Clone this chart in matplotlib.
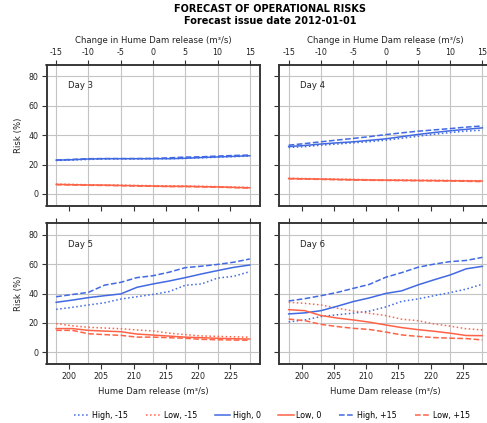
import matplotlib
matplotlib.use("Agg")
import matplotlib.pyplot as plt
from matplotlib.lines import Line2D

plt.rcParams["font.family"] = ["DejaVu Sans"]
plt.rcParams["axes.unicode_minus"] = False

# Hume Dam release (m3/s) and the change relative to the base release
release = [198, 200.5, 203, 205.5, 208, 210.5, 213, 215.5, 218, 220.5, 223, 225.5, 228]
base_release = 213
change_ticks = [-15, -10, -5, 0, 5, 10, 15]
release_ticks = [200, 205, 210, 215, 220, 225]
risk_ticks = [0, 20, 40, 60, 80]

days = ["Day 3", "Day 4", "Day 5", "Day 6"]

# Risk (%) of high / low flow for change scenarios -15, 0, +15
high_m15 = [
    [22.8, 23.1, 23.5, 23.8, 23.9, 23.9, 24.0, 24.0, 24.2, 24.6, 25.0, 25.4, 25.8],
    [31.6, 32.2, 33.2, 34.0, 34.8, 35.6, 36.6, 37.9, 39.3, 40.6, 41.8, 42.8, 43.4],
    [29.2, 30.6, 32.2, 33.7, 36.2, 37.8, 39.4, 41.3, 45.6, 46.5, 50.5, 51.7, 54.9],
    [20.6, 22.0, 24.3, 25.5, 26.6, 28.0, 30.8, 34.6, 36.3, 38.5, 40.6, 43.0, 46.3],
]
low_m15 = [
    [6.7, 6.5, 6.3, 6.1, 6.0, 5.8, 5.6, 5.5, 5.4, 5.2, 5.0, 4.7, 4.4],
    [10.7, 10.5, 10.3, 10.1, 9.9, 9.7, 9.6, 9.5, 9.4, 9.3, 9.2, 9.1, 9.0],
    [19.5, 18.0, 17.0, 16.5, 16.0, 15.2, 14.5, 13.0, 12.0, 11.1, 10.8, 10.5, 10.3],
    [34.0, 33.3, 32.2, 30.0, 28.1, 26.5, 25.0, 22.5, 21.5, 19.3, 17.8, 16.0, 15.2],
]
high_0 = [
    [23.0, 23.3, 23.8, 24.0, 24.0, 24.0, 24.0, 24.0, 24.3, 24.8, 25.2, 25.6, 26.0],
    [32.3, 33.0, 34.0, 34.8, 35.5, 36.5, 37.5, 39.0, 40.5, 41.8, 43.0, 44.0, 45.0],
    [34.0, 35.5, 37.2, 38.5, 39.7, 44.2, 46.5, 48.5, 50.8, 53.3, 55.6, 57.8, 59.4],
    [26.1, 26.8, 28.3, 31.3, 34.5, 37.0, 40.0, 41.8, 45.8, 49.3, 52.6, 56.8, 58.5],
]
low_0 = [
    [6.5, 6.3, 6.1, 6.0, 5.8, 5.6, 5.4, 5.2, 5.2, 5.0, 4.8, 4.5, 4.2],
    [10.5, 10.3, 10.1, 9.9, 9.7, 9.5, 9.4, 9.3, 9.2, 9.1, 9.0, 8.9, 8.8],
    [16.1, 16.1, 14.9, 14.4, 14.0, 12.4, 11.7, 11.0, 10.3, 9.9, 9.5, 9.2, 9.0],
    [29.0, 28.3, 25.0, 23.3, 22.0, 20.5, 18.6, 16.8, 15.4, 14.3, 13.0, 11.4, 11.3],
]
high_p15 = [
    [23.1, 23.5, 24.0, 24.1, 24.1, 24.1, 24.2, 24.6, 25.1, 25.3, 25.8, 26.2, 26.5],
    [33.2, 34.3, 35.5, 36.7, 37.8, 39.0, 40.4, 41.6, 42.7, 43.6, 44.5, 45.5, 46.3],
    [37.8, 39.3, 40.8, 45.7, 47.6, 50.8, 52.1, 54.5, 57.6, 58.6, 59.8, 61.3, 63.5],
    [34.9, 36.5, 38.5, 40.7, 43.5, 46.2, 51.0, 54.2, 57.8, 60.0, 61.7, 62.5, 64.6],
]
low_p15 = [
    [6.3, 6.1, 5.9, 5.8, 5.6, 5.4, 5.2, 5.0, 5.0, 4.8, 4.6, 4.3, 4.0],
    [10.3, 10.1, 9.9, 9.7, 9.5, 9.3, 9.2, 9.1, 9.0, 8.9, 8.8, 8.6, 8.4],
    [14.9, 14.9, 12.6, 12.0, 11.5, 10.3, 10.3, 9.9, 9.5, 8.8, 8.5, 8.3, 8.2],
    [22.6, 21.5, 19.0, 17.5, 16.3, 15.5, 13.8, 11.8, 10.8, 10.0, 9.6, 9.3, 8.4],
]

BLUE = "#4169E1"
RED = "#FF6347"
SPINE = "#333333"
GRID = "#c4c4c4"
FS = 5.7
LFS = 6.1

series = [
    ("High, -15", high_m15, BLUE, ":"),
    ("Low, -15", low_m15, RED, ":"),
    ("High, 0", high_0, BLUE, "-"),
    ("Low, 0", low_0, RED, "-"),
    ("High, +15", high_p15, BLUE, "--"),
    ("Low, +15", low_p15, RED, "--"),
]

W, H = 487, 423
fig = plt.figure(figsize=(W / 100, H / 100), dpi=100)

ax_w = 213 / W
ax_h = 141 / H
lefts = [46.5 / W, 279 / W]
bottoms = [1 - 205.7 / H, 1 - 364 / H]

xlim = (196.5, 229.5)
ylim = (-8, 88)

for i, day in enumerate(days):
    row, col = divmod(i, 2)
    ax = fig.add_axes([lefts[col], bottoms[row], ax_w, ax_h])
    top = ax.twiny()

    for label, data, color, ls in series:
        ax.plot(release, data[i], color=color, ls=ls, lw=1.1)

    ax.set_xlim(*xlim)
    ax.set_ylim(*ylim)
    top.set_xlim(xlim[0] - base_release, xlim[1] - base_release)

    ax.set_xticks(release_ticks)
    ax.set_yticks(risk_ticks)
    top.set_xticks(change_ticks)

    # grid: vertical lines from the change axis, horizontal from the risk axis
    top.grid(axis="x", color=GRID, lw=0.8)
    ax.grid(axis="y", color=GRID, lw=0.8)
    ax.set_axisbelow(True)
    ax.set_zorder(top.get_zorder() + 1)
    ax.patch.set_visible(False)

    for a in (ax, top):
        for s in a.spines.values():
            s.set_color(SPINE)
            s.set_linewidth(1.1)
        a.tick_params(direction="out", length=3.5, width=0.8, color=SPINE,
                      labelsize=FS, pad=2, labelcolor="#222222")

    if row == 0:
        ax.tick_params(labelbottom=False)
        top.set_xlabel("Change in Hume Dam release (m³/s)", fontsize=LFS, labelpad=3.5,
                       color="#222222")
    else:
        top.tick_params(labeltop=False)
        ax.set_xlabel("Hume Dam release (m³/s)", fontsize=LFS, labelpad=4.5, color="#222222")
    if col == 1:
        ax.tick_params(labelleft=False)
    else:
        ax.set_ylabel("Risk (%)", fontsize=LFS, labelpad=4, color="#222222")

    ax.text(0.1, 0.85, day, transform=ax.transAxes, fontsize=6.1, va="center",
            ha="left", color="#222222")

fig.text(270 / W, 1 - 15 / H, "FORECAST OF OPERATIONAL RISKS\nForecast issue date 2012-01-01",
         ha="center", va="center", fontsize=7, fontweight="bold", linespacing=1.15)

handles = [Line2D([], [], color=c, ls=ls, lw=1.1) for _, _, c, ls in series]
labels = [s[0] for s in series]
fig.legend(handles, labels, loc="center", bbox_to_anchor=(272 / W, 1 - 415 / H),
           ncol=6, frameon=False, fontsize=FS, handlelength=2.0, handletextpad=0.3,
           columnspacing=2.2)

fig.savefig("out.png", dpi=100)
